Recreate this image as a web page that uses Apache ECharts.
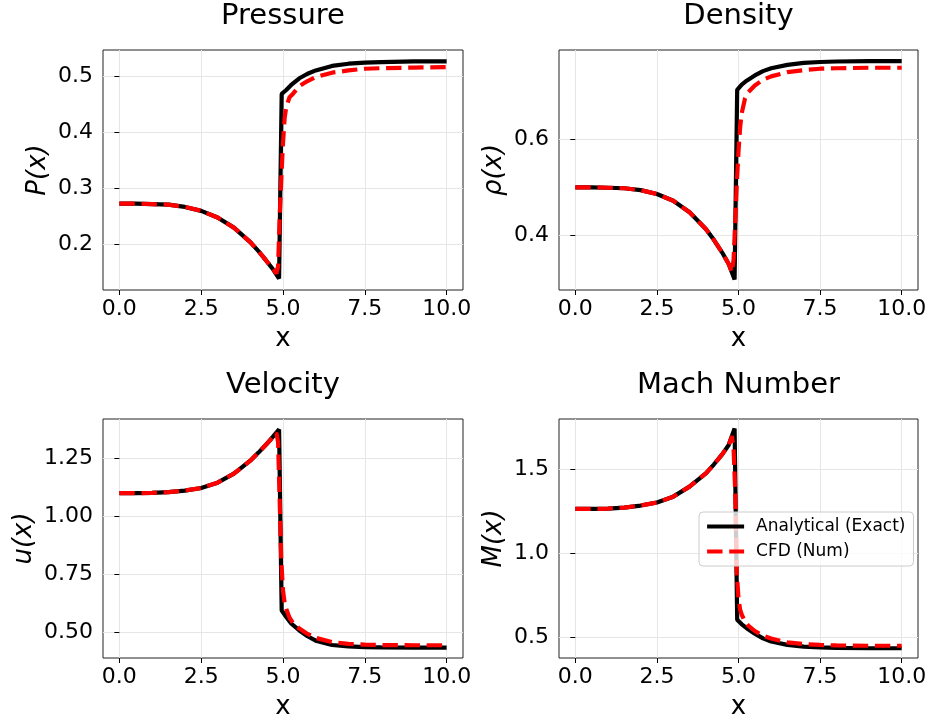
<!DOCTYPE html>
<html><head><meta charset="utf-8">
<script src="https://cdn.jsdelivr.net/npm/echarts@6/dist/echarts.min.js"></script>
<style>html,body{margin:0;padding:0;background:#fff}#c{width:930px;height:723px}</style>
</head><body><div id="c"></div>
<script>
// ---- data ----
const titles = ['Pressure', 'Density', 'Velocity', 'Mach Number'];
const yNames = ['P(x)', 'ρ(x)', 'u(x)', 'M(x)'];
const xTicks = [0, 2.5, 5, 7.5, 10];
const pTicks = [0.2, 0.3, 0.4, 0.5];
const rhoTicks = [0.4, 0.6];
const uTicks = [0.5, 0.75, 1.0, 1.25];
const mTicks = [0.5, 1.0, 1.5];

const xExact = [0, 0.5, 1.0, 1.5, 2.0, 2.5, 3.0, 3.5, 4.0, 4.25, 4.5, 4.7, 4.88, 4.96, 5.1, 5.25, 5.5, 5.75, 6.0, 6.5, 7.0, 7.5, 8.0, 9.0, 10.0];
const xNum = [0, 0.5, 1.0, 1.5, 2.0, 2.5, 3.0, 3.5, 4.0, 4.25, 4.5, 4.7, 4.8, 4.85, 4.9, 4.95, 5.0, 5.05, 5.1, 5.2, 5.3, 5.5, 5.75, 6.0, 6.5, 7.0, 7.5, 8.0, 9.0, 10.0];

const pExact = [0.272,0.272,0.271,0.270,0.266,0.259,0.247,0.229,0.203,0.187,0.169,0.154,0.138,0.468,0.475,0.484,0.496,0.504,0.510,0.518,0.522,0.524,0.525,0.526,0.526];
const pNum = [0.272,0.272,0.271,0.270,0.266,0.259,0.247,0.229,0.203,0.187,0.169,0.155,0.147,0.160,0.250,0.320,0.380,0.425,0.445,0.462,0.468,0.482,0.491,0.498,0.506,0.510,0.513,0.514,0.515,0.516];

const rhoExact = [0.500,0.500,0.499,0.498,0.494,0.486,0.472,0.448,0.413,0.390,0.364,0.340,0.308,0.703,0.714,0.722,0.733,0.742,0.748,0.755,0.759,0.761,0.762,0.763,0.763];
const rhoNum = [0.500,0.500,0.499,0.498,0.494,0.486,0.472,0.448,0.413,0.390,0.364,0.340,0.323,0.350,0.430,0.510,0.575,0.625,0.655,0.685,0.698,0.712,0.724,0.731,0.740,0.744,0.747,0.748,0.749,0.749];

const uExact = [1.100,1.100,1.101,1.104,1.111,1.122,1.145,1.184,1.240,1.275,1.312,1.345,1.375,0.593,0.565,0.537,0.507,0.482,0.463,0.444,0.438,0.435,0.434,0.433,0.433];
const uNum = [1.100,1.100,1.101,1.104,1.111,1.122,1.145,1.184,1.240,1.275,1.312,1.343,1.360,1.320,1.060,0.800,0.680,0.625,0.600,0.562,0.540,0.515,0.492,0.475,0.457,0.449,0.446,0.444,0.443,0.443];

const mExact = [1.266,1.266,1.268,1.274,1.286,1.304,1.339,1.399,1.478,1.532,1.591,1.647,1.745,0.605,0.578,0.555,0.522,0.494,0.475,0.455,0.445,0.440,0.437,0.435,0.435];
const mNum = [1.266,1.266,1.268,1.274,1.286,1.304,1.339,1.399,1.478,1.532,1.591,1.647,1.700,1.620,1.370,0.880,0.730,0.665,0.635,0.595,0.570,0.538,0.510,0.493,0.470,0.460,0.455,0.452,0.450,0.450];

// ---- chart ----
const FONT = 'DejaVu Sans';
const zip = (xs, ys) => xs.map((x, i) => [x, ys[i]]);
const grids = [
  {left: 103, top: 50, width: 360, height: 240},
  {left: 559, top: 50, width: 359, height: 240},
  {left: 103, top: 419, width: 360, height: 239},
  {left: 559, top: 419, width: 359, height: 239}
];
const yCfg = [
  {min: 0.1175, max: 0.5465, ticks: pTicks, dec: 1, gap: 52},
  {min: 0.286, max: 0.786, ticks: rhoTicks, dec: 1, gap: 52},
  {min: 0.388, max: 1.420, ticks: uTicks, dec: 2, gap: 66},
  {min: 0.377, max: 1.802, ticks: mTicks, dec: 1, gap: 52}
];
const exactSets = [pExact, rhoExact, uExact, mExact];
const numSets = [pNum, rhoNum, uNum, mNum];
const titleTops = [2, 2, 371, 371];
const LW = 4.2;
const DASH = [15.4, 6.7];

const option = {
  animation: false,
  backgroundColor: '#fff',
  title: grids.map((g, i) => ({
    text: titles[i], left: g.left + g.width / 2, top: titleTops[i], textAlign: 'center', padding: 0,
    textStyle: {fontFamily: FONT, fontSize: 29, fontWeight: 'normal', color: '#000'}
  })),
  grid: grids.map(g => Object.assign({show: true, borderColor: '#222222', borderWidth: 1, backgroundColor: 'transparent', containLabel: false}, g)),
  xAxis: grids.map((g, i) => ({
    type: 'value', gridIndex: i, min: -0.5, max: 10.5,
    name: 'x', nameLocation: 'middle', nameGap: 36,
    nameTextStyle: {fontFamily: FONT, fontSize: 26, color: '#000'},
    axisLine: {show: false},
    axisTick: {show: true, length: 5, customValues: xTicks, lineStyle: {color: '#000'}},
    axisLabel: {customValues: xTicks, formatter: v => Number(v).toFixed(1), fontFamily: FONT, fontSize: 22, color: '#000', margin: 8},
    splitLine: {show: true, lineStyle: {color: '#e6e6e6', width: 1}}
  })),
  yAxis: grids.map((g, i) => ({
    type: 'value', gridIndex: i, min: yCfg[i].min, max: yCfg[i].max,
    name: yNames[i], nameLocation: 'middle', nameGap: yCfg[i].gap, nameRotate: 90,
    nameTextStyle: {fontFamily: FONT, fontSize: 26, fontStyle: 'italic', color: '#000'},
    axisLine: {show: false},
    axisTick: {show: true, length: 5, customValues: yCfg[i].ticks, lineStyle: {color: '#000'}},
    axisLabel: {customValues: yCfg[i].ticks, formatter: v => Number(v).toFixed(yCfg[i].dec), fontFamily: FONT, fontSize: 22, color: '#000', margin: 10},
    splitLine: {show: true, lineStyle: {color: '#e6e6e6', width: 1}}
  })),
  legend: {
    data: ['Analytical (Exact)', 'CFD (Num)'],
    orient: 'vertical', left: 699, top: 512,
    padding: [6, 8, 6, 6], itemGap: 8, itemWidth: 37, itemHeight: 18,
    backgroundColor: 'rgba(255,255,255,0.8)', borderColor: '#cccccc', borderWidth: 1, borderRadius: 4,
    itemStyle: {color: 'rgba(0,0,0,0)', borderWidth: 0, opacity: 0},
    lineStyle: {width: LW},
    textStyle: {fontFamily: FONT, fontSize: 17, color: '#000', padding: [0, 0, 0, 7]}
  },
  series: []
};
for (let i = 0; i < 4; i++) {
  option.series.push({
    name: 'Analytical (Exact)', type: 'line', xAxisIndex: i, yAxisIndex: i,
    symbol: 'none', showSymbol: false, smooth: false,
    lineStyle: {color: '#000', width: LW, type: 'solid'}, itemStyle: {color: '#000'},
    data: zip(xExact, exactSets[i]), z: 2
  });
  option.series.push({
    name: 'CFD (Num)', type: 'line', xAxisIndex: i, yAxisIndex: i,
    symbol: 'none', showSymbol: false, smooth: false,
    lineStyle: {color: '#ff0000', width: LW, type: DASH}, itemStyle: {color: '#ff0000'},
    data: zip(xNum, numSets[i]), z: 3
  });
}
const chart = echarts.init(document.getElementById('c'));
chart.setOption(option);
</script>
</body></html>
